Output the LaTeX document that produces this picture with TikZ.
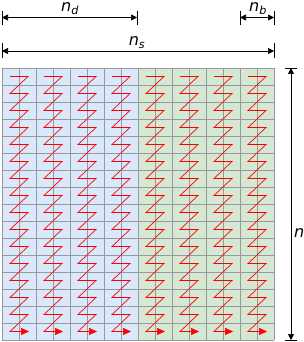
\documentclass[tikz,border=0pt]{standalone}
\usepackage{fontspec}
\setmainfont{DejaVu Sans}
\usetikzlibrary{arrows.meta}
\definecolor{cellBlue}{HTML}{DAE8FC}
\definecolor{cellGreen}{HTML}{D5E8D4}
\definecolor{gridGray}{HTML}{999999}
\definecolor{zigRed}{HTML}{FF0000}

\begin{document}
\begin{tikzpicture}[x=1pt, y=-1pt,
  gridline/.style={gridGray, line width=0.8pt},
  zigline/.style={zigRed, line width=0.7pt, -{Triangle[length=8pt, width=7pt]}},
  dimline/.style={black, line width=0.7pt, {Triangle[length=6pt, width=6pt]}-{Triangle[length=6pt, width=6pt]}},
  dimtick/.style={black, line width=0.7pt},
  dimlabel/.style={anchor=base, inner sep=0pt, font=\fontsize{16}{18}\selectfont\itshape}]
  \useasboundingbox (0,0) rectangle (304,342);
  % two halves of the matrix
  \fill[cellBlue] (2,68) rectangle (138,340);
  \fill[cellGreen] (138,68) rectangle (274,340);
  \foreach \i in {0,...,16} {
    \draw[gridline] (2+17*\i,68) -- (2+17*\i,340);
    \draw[gridline] (2,68+17*\i) -- (274,68+17*\i);
  }
  % zig-zag order inside each block
  \foreach \b in {0,...,7} {
    \pgfmathsetmacro{\bx}{2+34*\b}
    \draw[zigline] (\bx+8,76.5) \foreach \r in {1,...,15} { -- (\bx+26,59.5+17*\r) -- (\bx+8,76.5+17*\r) } -- (\bx+27,331.5);
  }
  % n_d
  \coordinate (ndL) at (2,17.5);
  \coordinate (ndR) at (137,17.5);
  \draw[dimtick] (2,11) -- (2,25);
  \draw[dimtick] (137,11) -- (137,25);
  \draw[dimline] (ndL) -- (ndR);
  \node[dimlabel] (lblD) at (70,12) {n\textsubscript{d}};
  % n_b
  \coordinate (nbL) at (240,17.5);
  \coordinate (nbR) at (274,17.5);
  \draw[dimtick] (240,11) -- (240,25);
  \draw[dimtick] (274,11) -- (274,25);
  \draw[dimline] (nbL) -- (nbR);
  \node[dimlabel] (lblB) at (258,12) {n\textsubscript{b}};
  % n_s
  \coordinate (nsL) at (2,51);
  \coordinate (nsR) at (274,51);
  \draw[dimtick] (2,43) -- (2,58);
  \draw[dimtick] (274,43) -- (274,58);
  \draw[dimline] (nsL) -- (nsR);
  \node[dimlabel] (lblS) at (137,46) {n\textsubscript{s}};
  % n
  \coordinate (nT) at (291,68);
  \coordinate (nB) at (291,340);
  \draw[dimtick] (285,68) -- (297,68);
  \draw[dimtick] (285,340) -- (297,340);
  \draw[dimline] (nT) -- (nB);
  \node[dimlabel, anchor=base west] (lblN) at (294,237) {n};
\end{tikzpicture}
\end{document}
